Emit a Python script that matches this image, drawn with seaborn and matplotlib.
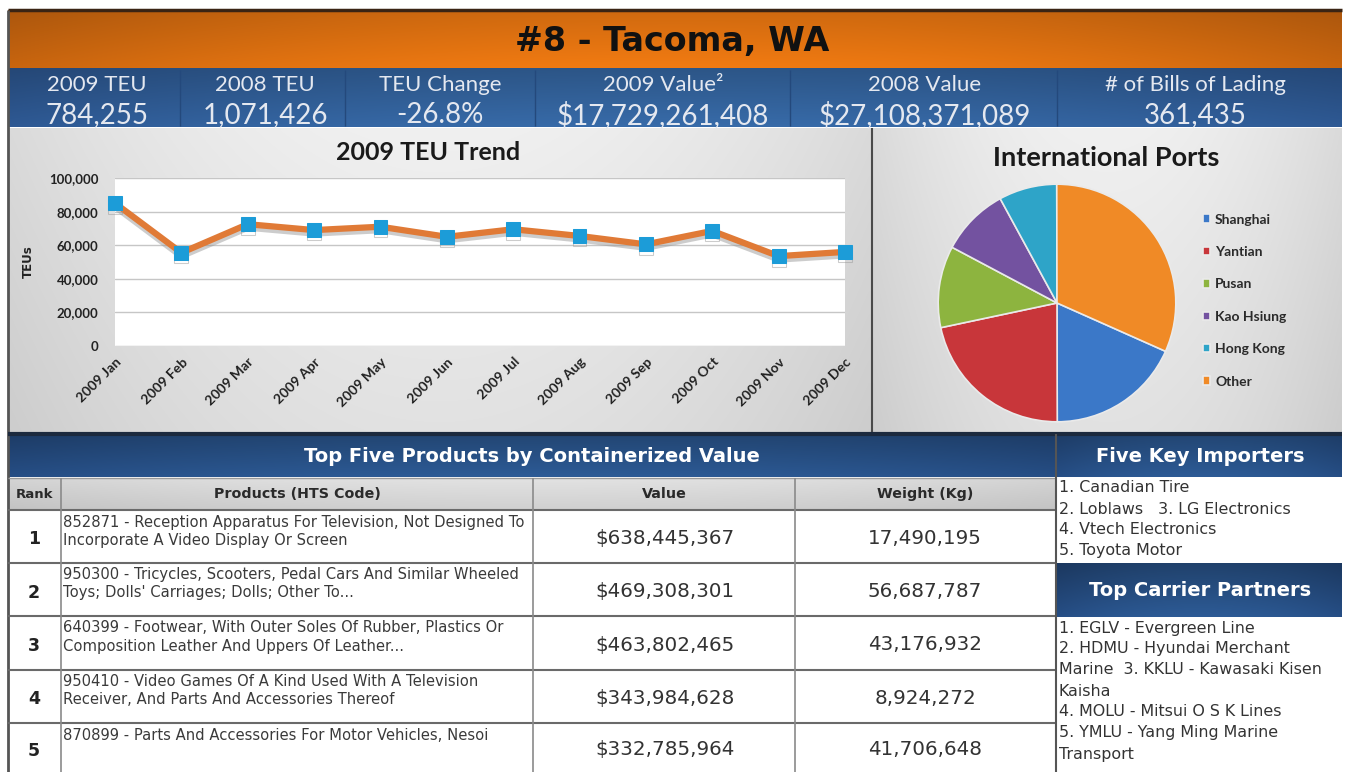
import numpy as np
import matplotlib
matplotlib.use('Agg')
import matplotlib.pyplot as plt
import matplotlib.patheffects as pe
from matplotlib.colors import to_rgb
from matplotlib.ticker import FuncFormatter
import seaborn as sns

# ---- data ----
port_title = "#8 - Tacoma, WA"
stat_labels = ["2009 TEU", "2008 TEU", "TEU Change", "2009 Value²", "2008 Value", "# of Bills of Lading"]
stat_values = ["784,255", "1,071,426", "-26.8%", "$17,729,261,408", "$27,108,371,089", "361,435"]

months = ["2009 Jan", "2009 Feb", "2009 Mar", "2009 Apr", "2009 May", "2009 Jun",
          "2009 Jul", "2009 Aug", "2009 Sep", "2009 Oct", "2009 Nov", "2009 Dec"]
teu_2009 = [85000, 55500, 72500, 69000, 71000, 65000, 69500, 65500, 60500, 68500, 53500, 56000]

port_names = ["Shanghai", "Yantian", "Pusan", "Kao Hsiung", "Hong Kong", "Other"]
port_share = [18.3, 21.7, 11.1, 9.3, 7.9, 31.7]
port_colors = ["#3B78C8", "#C8363A", "#8DB43F", "#7352A0", "#2EA4C8", "#F08A26"]

ranks = [1, 2, 3, 4, 5]
products = [
    ["852871 - Reception Apparatus For Television, Not Designed To",
     "Incorporate A Video Display Or Screen"],
    ["950300 - Tricycles, Scooters, Pedal Cars And Similar Wheeled",
     "Toys; Dolls' Carriages; Dolls; Other To..."],
    ["640399 - Footwear, With Outer Soles Of Rubber, Plastics Or",
     "Composition Leather And Uppers Of Leather..."],
    ["950410 - Video Games Of A Kind Used With A Television",
     "Receiver, And Parts And Accessories Thereof"],
    ["870899 - Parts And Accessories For Motor Vehicles, Nesoi"],
]
product_value = [638445367, 469308301, 463802465, 343984628, 332785964]
product_weight = [17490195, 56687787, 43176932, 8924272, 41706648]

importers = ["1. Canadian Tire", "2. Loblaws   3. LG Electronics",
             "4. Vtech Electronics", "5. Toyota Motor"]
carriers = ["1. EGLV - Evergreen Line", "2. HDMU - Hyundai Merchant",
            "Marine  3. KKLU - Kawasaki Kisen", "Kaisha",
            "4. MOLU - Mitsui O S K Lines", "5. YMLU - Yang Ming Marine",
            "Transport"]

# ---- setup ----
sns.set_style("white")
plt.rcParams['font.family'] = ['DejaVu Sans']
W, H = 1345, 772
fig = plt.figure(figsize=(W / 100, H / 100), dpi=100)
fig.patch.set_facecolor('white')

bg = fig.add_axes([0, 0, 1, 1])
bg.set_xlim(0, W)
bg.set_ylim(H, 0)
bg.axis('off')

LATO = ['Lato', 'DejaVu Sans']


def shade(x0, y0, x1, y1, c_mid, c_edge, v_top=1.0, v_bot=1.0):
    # simple 2D gradient block: horizontal mid->edge, vertical brightness ramp
    rx = np.abs(np.linspace(-1, 1, 200))[None, :, None] ** 2
    ry = np.linspace(0, 1, 60)[:, None, None]
    mid = np.array(to_rgb(c_mid))
    edge = np.array(to_rgb(c_edge))
    img = (mid + (edge - mid) * rx) * (v_top + (v_bot - v_top) * ry)
    bg.imshow(np.clip(img, 0, 1), extent=(x0, x1, y1, y0), aspect='auto',
              interpolation='bilinear', zorder=0)


def hline(y, x0, x1, c, lw):
    bg.plot([x0, x1], [y, y], color=c, lw=lw, zorder=2, solid_capstyle='butt')


def vline(x, y0, y1, c, lw):
    bg.plot([x, x], [y0, y1], color=c, lw=lw, zorder=2, solid_capstyle='butt')


# ---- header bands ----
shade(8, 10, 1342, 68, '#F27B12', '#C8650F', v_top=0.86, v_bot=1.0)
hline(10, 8, 1342, '#3A2414', 2.5)
bg.text(672, 41, port_title, ha='center', va='center', fontsize=24,
        fontweight='bold', color='#111111')

shade(8, 68, 1342, 127, '#3566A1', '#2C558D', v_top=0.84, v_bot=1.05)
for x in [180, 345, 535, 790, 1057]:
    vline(x, 70, 126, '#24497C', 1.0)
stat_x = [97, 265, 440, 663, 925, 1195]
for x, lab, val in zip(stat_x, stat_labels, stat_values):
    bg.text(x, 85, lab, ha='center', va='center', fontsize=16,
            family=LATO, color='#E4E8F0')
    bg.text(x, 115, val, ha='center', va='center', fontsize=20,
            family=LATO, color='#E4E8F0')

# ---- chart panels ----
shade(8, 128, 871, 433, '#F0F0F0', '#DADADA', v_top=1.0, v_bot=0.94)
shade(873, 128, 1342, 433, '#F0F0F0', '#DADADA', v_top=1.0, v_bot=0.94)
vline(872, 128, 434, '#4A4A4A', 1.5)
vline(8, 10, 772, '#555555', 2)

bg.text(428, 152, "2009 TEU Trend", ha='center', va='center', fontsize=18,
        fontweight='bold', family=LATO, color='#1A1A1A')
bg.text(1106, 158, "International Ports", ha='center', va='center', fontsize=19.5,
        fontweight='bold', family=LATO, color='#1A1A1A')

# line chart
ax = fig.add_axes([115 / W, 1 - 346 / H, 730 / W, 168 / H])
ax.set_facecolor('white')
sns.lineplot(x=months, y=teu_2009, ax=ax, sort=False, color='#E07A36', lw=4.5,
             marker='s', markersize=10, markerfacecolor='#1C9CD8',
             markeredgecolor='#1C9CD8',
             path_effects=[pe.SimpleLineShadow(offset=(0, -2.5), shadow_color='#9A9A9A', alpha=0.5),
                           pe.Normal()])
for ln in ax.lines:
    ln.set_clip_on(False)
ax.set_xlim(0, len(months) - 1)
ax.set_ylim(0, 100000)
ax.set_yticks(range(0, 100001, 20000))
ax.yaxis.set_major_formatter(FuncFormatter(lambda v, p: f"{int(v):,}"))
ax.grid(axis='y', color='#C6C6C6', lw=1)
ax.set_axisbelow(True)
for s in ax.spines.values():
    s.set_visible(False)
ax.tick_params(axis='y', length=0, pad=12)
ax.tick_params(axis='x', length=0, pad=7)
for t in ax.get_yticklabels():
    t.set_fontsize(9.5)
    t.set_fontweight('bold')
    t.set_family(LATO)
    t.set_color('#222222')
ax.set_xticks(range(len(months)))
ax.set_xticklabels(months, rotation=45, ha='right', rotation_mode='anchor',
                   fontsize=10, fontweight='bold', family=LATO, color='#222222')
ax.set_xlabel('')
ax.set_ylabel('TEUs', fontsize=8.5, fontweight='bold', color='#222222')
ax.yaxis.set_label_coords(-0.11, 0.5)

# pie chart
pax = fig.add_axes([937 / W, 1 - 423 / H, 240 / W, 240 / H])
wedges, _ = pax.pie(port_share, colors=port_colors, startangle=-24, counterclock=False,
                    wedgeprops=dict(edgecolor='#EAEAEA', linewidth=1.2))
pax.set_xlim(-1.01, 1.01)
pax.set_ylim(-1.01, 1.01)
pax.set_aspect('equal')
pax.legend(wedges, port_names, loc='upper left', frameon=False,
           bbox_to_anchor=(1190 / W, 1 - 201 / H), bbox_transform=fig.transFigure,
           prop=dict(family=LATO, weight='bold', size=10),
           handlelength=0.55, handleheight=0.55, handletextpad=0.35,
           labelspacing=1.47, labelcolor='#2A2A2A')

# ---- products table ----
hline(434, 8, 1342, '#1C2A3E', 3)
shade(8, 436, 1056, 477, '#2D5B96', '#264E85', v_top=0.78, v_bot=1.0)
bg.text(532, 457, "Top Five Products by Containerized Value", ha='center', va='center',
        fontsize=14, fontweight='bold', color='white')

shade(8, 478, 1056, 510, '#E2E2E2', '#D4D4D4', v_top=1.0, v_bot=0.92)
col_edges = [8, 61, 533, 795, 1056]
headers = ["Rank", "Products (HTS Code)", "Value", "Weight (Kg)"]
for i, h in enumerate(headers):
    bg.text((col_edges[i] + col_edges[i + 1]) / 2, 494, h, ha='center', va='center',
            fontsize=10.3 if i else 9.5, fontweight='bold', color='#2A2A2A')

row_edges = [510, 563, 616, 670, 723, 772]
for y in row_edges[:-1]:
    hline(y, 8, 1056, '#6A6A6A', 1.5)
hline(478, 8, 1056, '#9A9A9A', 1)
for x in col_edges[1:-1]:
    vline(x, 478, 772, '#8A8A8A', 1.2)
vline(1056, 434, 772, '#555555', 1.5)

for i in range(len(ranks)):
    top, bot = row_edges[i], row_edges[i + 1]
    mid = (top + bot) / 2
    bg.text(34, mid + 3, str(ranks[i]), ha='center', va='center', fontsize=12.5,
            fontweight='bold', color='#222222')
    for j, line in enumerate(products[i]):
        bg.text(63, top + 12 + j * 18, line, ha='left', va='center', fontsize=10.6,
                color='#3A3A3A')
    bg.text(665, mid + 2, f"${product_value[i]:,}", ha='center', va='center',
            fontsize=14.3, color='#333333')
    bg.text(925, mid + 2, f"{product_weight[i]:,}", ha='center', va='center',
            fontsize=14.3, color='#333333')

# ---- right column: importers and carriers ----
shade(1057, 436, 1342, 477, '#2D5B96', '#264E85', v_top=0.78, v_bot=1.0)
bg.text(1200, 457, "Five Key Importers", ha='center', va='center', fontsize=14,
        fontweight='bold', color='white')
for k, line in enumerate(importers):
    bg.text(1059, 488 + k * 21, line, ha='left', va='center', fontsize=11.4, color='#333333')

shade(1057, 563, 1342, 617, '#2D5B96', '#264E85', v_top=0.72, v_bot=1.0)
bg.text(1200, 591, "Top Carrier Partners", ha='center', va='center', fontsize=14,
        fontweight='bold', color='white')
for k, line in enumerate(carriers):
    bg.text(1059, 628 + k * 21, line, ha='left', va='center', fontsize=11.4, color='#333333')

fig.savefig('out.png', dpi=100)
